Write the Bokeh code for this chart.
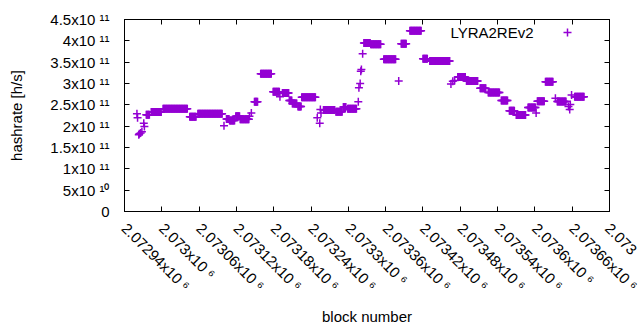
import math
import numpy as np
from bokeh.plotting import figure
from bokeh.models import (Range1d, FixedTicker, CustomJSTickFormatter, LinearAxis,
                          Label, Legend, LegendItem, ColumnDataSource)
from bokeh.embed import file_html
from bokeh.resources import INLINE

# ---- data: runs of consecutive blocks with the same hashrate ----
seg_first = [2072960, 2072961, 2072963, 2072964, 2072966, 2072968, 2072971, 2072972,
             2072975, 2072983, 2073002, 2073045, 2073058, 2073100, 2073104, 2073109,
             2073119, 2073126, 2073141, 2073144, 2073149, 2073159, 2073179, 2073190,
             2073194, 2073205, 2073210, 2073219, 2073225, 2073250, 2073254, 2073255,
             2073256, 2073260, 2073280, 2073292, 2073299, 2073316, 2073317, 2073319,
             2073320, 2073321, 2073323, 2073325, 2073336, 2073357, 2073381, 2073385,
             2073399, 2073420, 2073431, 2073465, 2073468, 2073471, 2073476, 2073490,
             2073512, 2073525, 2073546, 2073559, 2073570, 2073589, 2073602, 2073604,
             2073617, 2073633, 2073636, 2073654, 2073656, 2073657, 2073659, 2073664]
seg_last = [2072960, 2072961, 2072963, 2072964, 2072966, 2072968, 2072971, 2072972,
            2072980, 2072999, 2073041, 2073055, 2073097, 2073100, 2073108, 2073117,
            2073125, 2073140, 2073141, 2073144, 2073154, 2073176, 2073189, 2073190,
            2073204, 2073209, 2073217, 2073224, 2073247, 2073250, 2073254, 2073255,
            2073256, 2073278, 2073290, 2073296, 2073313, 2073316, 2073317, 2073319,
            2073320, 2073321, 2073323, 2073335, 2073352, 2073376, 2073381, 2073393,
            2073417, 2073427, 2073463, 2073465, 2073468, 2073471, 2073488, 2073508,
            2073521, 2073543, 2073556, 2073567, 2073585, 2073601, 2073602, 2073615,
            2073629, 2073633, 2073650, 2073654, 2073656, 2073657, 2073659, 2073679]
seg_rate = [2.29e11, 2.20e11, 1.80e11, 1.82e11, 1.84e11, 1.87e11, 2.07e11, 1.99e11,
            2.27e11, 2.33e11, 2.406e11, 2.22e11, 2.29e11, 2.01e11, 2.17e11, 2.13e11,
            2.23e11, 2.16e11, 2.23e11, 2.31e11, 2.57e11, 3.23e11, 2.805e11, 2.69e11,
            2.78e11, 2.60e11, 2.53e11, 2.46e11, 2.68e11, 2.20e11, 2.07e11, 2.39e11,
            2.31e11, 2.38e11, 2.34e11, 2.45e11, 2.406e11, 2.57e11, 2.90e11, 3.00e11,
            3.29e11, 3.33e11, 3.70e11, 3.95e11, 3.92e11, 3.57e11, 3.06e11, 3.93e11,
            4.234e11, 3.58e11, 3.53e11, 2.99e11, 3.05e11, 3.07e11, 3.15e11, 3.06e11,
            2.89e11, 2.79e11, 2.60e11, 2.36e11, 2.26e11, 2.44e11, 2.31e11, 2.586e11,
            3.04e11, 2.656e11, 2.58e11, 2.46e11, 2.39e11, 2.51e11, 2.73e11, 2.6875e11]

series_name = "LYRA2REv2"

x_ticks = [2072940, 2073000, 2073060, 2073120, 2073180, 2073240, 2073300,
           2073360, 2073420, 2073480, 2073540, 2073600, 2073660, 2073720]
# the last label is cut off by the picture edge in the reference
x_tick_main = ["2.07294x10", "2.073x10", "2.07306x10", "2.07312x10", "2.07318x10",
               "2.07324x10", "2.0733x10", "2.07336x10", "2.07342x10", "2.07348x10",
               "2.07354x10", "2.0736x10", "2.07366x10", "2.073"]
x_tick_exp = ["6"] * 13 + [""]

y_ticks = [0, 5e10, 1e11, 1.5e11, 2e11, 2.5e11, 3e11, 3.5e11, 4e11, 4.5e11]
y_tick_main = ["0", "5x10", "1x10", "1.5x10", "2x10", "2.5x10", "3x10", "3.5x10",
               "4x10", "4.5x10"]
y_tick_exp = ["", "10", "11", "11", "11", "11", "11", "11", "11", "11"]

# ---- expand runs into one point per block ----
blocks = np.concatenate([np.arange(a, b + 1) for a, b in zip(seg_first, seg_last)])
rates = np.concatenate([np.full(b - a + 1, r) for a, b, r in zip(seg_first, seg_last, seg_rate)])
src = ColumnDataSource(dict(x=blocks, y=rates))

SUP = str.maketrans("0123456789", "\u2070\u00b9\u00b2\u00b3\u2074\u2075\u2076\u2077\u2078\u2079")


def tick_text(m, e):
    return m + (" " + e.translate(SUP) if e else "")


x_labels = [tick_text(m, e) for m, e in zip(x_tick_main, x_tick_exp)]
y_labels = [tick_text(m, e) for m, e in zip(y_tick_main, y_tick_exp)]

COLOR = "#9400d3"
FONT = "Liberation Sans"
FS = "15px"

p = figure(width=640, height=330, output_backend="svg", toolbar_location=None,
           x_range=Range1d(x_ticks[0], x_ticks[-1]), y_range=Range1d(y_ticks[0], y_ticks[-1]),
           min_border_left=124, min_border_right=31, min_border_top=19, min_border_bottom=119,
           x_axis_location=None, y_axis_location=None)
p.grid.visible = False
p.outline_line_color = "black"
p.outline_line_width = 1
p.background_fill_color = "white"
p.border_fill_color = "white"


def label_formatter(tvals, tlabs):
    return CustomJSTickFormatter(args=dict(tvals=tvals, tlabs=tlabs), code="""
        for (let i = 0; i < tvals.length; i++) {
            if (Math.abs(tvals[i] - tick) <= 1e-6 * Math.max(1, Math.abs(tick))) return tlabs[i];
        }
        return '';
    """)


def make_axis(tick_values, tick_texts=None, title=None):
    if tick_texts is None:
        ax = LinearAxis(ticker=FixedTicker(ticks=tick_values),
                        formatter=CustomJSTickFormatter(code="return ''"))
        ax.major_label_text_font_size = "1px"
        ax.major_label_standoff = 0
    else:
        ax = LinearAxis(ticker=FixedTicker(ticks=tick_values),
                        formatter=label_formatter(tick_values, tick_texts))
        ax.major_label_text_font = FONT
        ax.major_label_text_font_size = FS
        ax.major_label_text_color = "black"
    ax.major_tick_in = 5
    ax.major_tick_out = 0
    ax.minor_tick_line_color = None
    ax.axis_line_color = "black"
    ax.major_tick_line_color = "black"
    if title:
        ax.axis_label = title
        ax.axis_label_text_font = FONT
        ax.axis_label_text_font_size = FS
        ax.axis_label_text_font_style = "normal"
        ax.axis_label_text_color = "black"
    return ax


xb = make_axis(x_ticks, x_labels, "block number")
xb.major_label_orientation = -math.pi / 4
xb.major_label_standoff = 14
xb.axis_label_standoff = 5
p.add_layout(xb, "below")

yl = make_axis(y_ticks, y_labels, "hashrate [h/s]")
yl.major_label_standoff = 15
yl.axis_label_standoff = 22
p.add_layout(yl, "left")

p.add_layout(make_axis(x_ticks), "above")
p.add_layout(make_axis(y_ticks), "right")

r = p.scatter("x", "y", source=src, marker="cross", size=8, line_color=COLOR,
              line_width=1.5)

# ---- key: text on the left, sample on the right ----
p.add_layout(Label(x=x_ticks[-1], y=y_ticks[-1], text=series_name, x_offset=-76, y_offset=-12.5,
                   text_align="right", text_baseline="middle", text_font=FONT,
                   text_font_size=FS, text_color="black"))
legend = Legend(items=[LegendItem(label=" ", renderers=[r])], location=(433, 169),
                padding=0, margin=0, spacing=0, label_standoff=0, glyph_width=20,
                glyph_height=20, label_height=20, label_width=1,
                label_text_font_size="1px", border_line_alpha=0, background_fill_alpha=0)
p.add_layout(legend, "center")

open("out.html", "w").write(file_html(p, INLINE))
